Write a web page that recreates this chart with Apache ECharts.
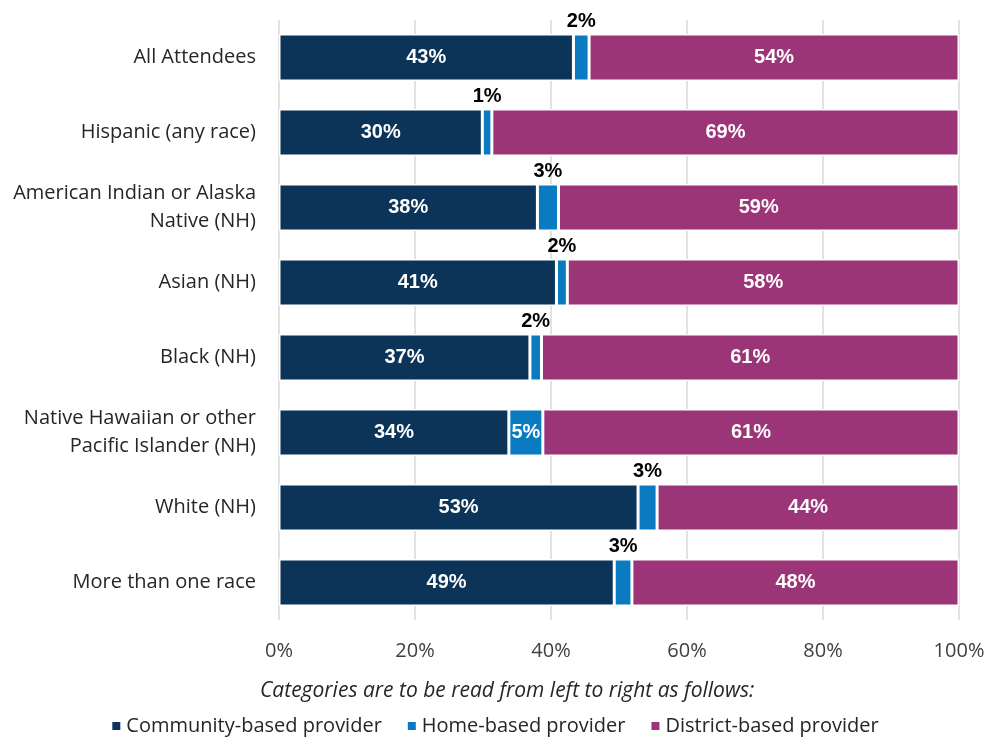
<!DOCTYPE html>
<html>
<head>
<meta charset="utf-8">
<script src="https://cdn.jsdelivr.net/npm/echarts@6/dist/echarts.min.js"></script>
<style>
  html, body { margin: 0; padding: 0; background: #ffffff; }
  #chart { width: 989px; height: 740px; }
</style>
</head>
<body>
<div id="chart"></div>
<script>
// Attendee groups, listed top to bottom
const categories = [
  'All Attendees',
  'Hispanic (any race)',
  'American Indian or Alaska\nNative (NH)',
  'Asian (NH)',
  'Black (NH)',
  'Native Hawaiian or other\nPacific Islander (NH)',
  'White (NH)',
  'More than one race'
];

// Share of attendees by provider type (percent)
const communityBased = [43.3, 29.9, 38.0, 40.8, 36.9, 33.8, 52.8, 49.3];
const homeBased      = [2.3, 1.4, 3.1, 1.6, 1.7, 5.0, 2.8, 2.6];
const districtBased  = [54.4, 68.7, 58.9, 57.6, 61.4, 61.2, 44.4, 48.1];

const seriesNames = ['Community-based provider', 'Home-based provider', 'District-based provider'];
const xTicks = [0, 20, 40, 60, 80, 100];

const colors = ['#0b3458', '#0a7bc1', '#9c3578'];
const FONT = '"Open Sans", "Noto Sans", sans-serif';
const LABEL_FONT = '"Liberation Sans", Arial, sans-serif';

// Category axis runs top-to-bottom, so reverse for ECharts' bottom-up order
const rev = arr => arr.slice().reverse();

const pct = p => Math.round(p.value) + '%';

// Home-based segments are narrow: label sits above the bar unless the segment is wide
const homeData = rev(homeBased).map(v => {
  if (v >= 4) {
    return { value: v, label: { position: 'inside', color: '#ffffff' } };
  }
  return v;
});

const chart = echarts.init(document.getElementById('chart'), null, { renderer: 'canvas' });

chart.setOption({
  animation: false,
  backgroundColor: '#ffffff',
  color: colors,
  grid: { left: 279, right: 30, top: 20, bottom: 120, containLabel: false },
  xAxis: {
    type: 'value',
    min: 0,
    max: 100,
    interval: 20,
    axisLine: { show: false },
    axisTick: { show: false },
    splitLine: { show: true, lineStyle: { color: '#d9d9d9', width: 1.5 } },
    axisLabel: {
      margin: 21,
      color: '#404040',
      fontSize: 20,
      fontFamily: FONT,
      formatter: v => (xTicks.indexOf(v) >= 0 ? v + '%' : '')
    }
  },
  yAxis: {
    type: 'category',
    data: rev(categories),
    axisLine: { show: false },
    axisTick: { show: false },
    axisLabel: {
      margin: 23,
      color: '#262626',
      fontSize: 20,
      lineHeight: 28,
      fontFamily: FONT,
      align: 'right'
    }
  },
  legend: {
    top: 711,
    left: 'center',
    icon: 'rect',
    itemWidth: 10,
    itemHeight: 10,
    itemGap: 24,
    data: seriesNames,
    textStyle: { color: '#262626', fontSize: 20, fontFamily: FONT }
  },
  graphic: [{
    type: 'text',
    left: 260,
    top: 681,
    style: {
      text: 'Categories are to be read from left to right as follows:',
      fill: '#262626',
      font: 'italic 21px ' + FONT
    }
  }],
  series: [
    {
      name: seriesNames[0],
      type: 'bar',
      stack: 'total',
      barWidth: 47,
      data: rev(communityBased),
      itemStyle: { borderColor: '#ffffff', borderWidth: 1.5 },
      label: {
        show: true, position: 'inside', color: '#ffffff',
        fontSize: 20, fontWeight: 'bold', fontFamily: LABEL_FONT, formatter: pct
      }
    },
    {
      name: seriesNames[1],
      type: 'bar',
      stack: 'total',
      barWidth: 47,
      data: homeData,
      itemStyle: { borderColor: '#ffffff', borderWidth: 1.5 },
      label: {
        show: true, position: 'top', distance: 3, color: '#000000',
        fontSize: 20, fontWeight: 'bold', fontFamily: LABEL_FONT, formatter: pct
      }
    },
    {
      name: seriesNames[2],
      type: 'bar',
      stack: 'total',
      barWidth: 47,
      data: rev(districtBased),
      itemStyle: { borderColor: '#ffffff', borderWidth: 1.5 },
      label: {
        show: true, position: 'inside', color: '#ffffff',
        fontSize: 20, fontWeight: 'bold', fontFamily: LABEL_FONT, formatter: pct
      }
    }
  ]
});
</script>
</body>
</html>
